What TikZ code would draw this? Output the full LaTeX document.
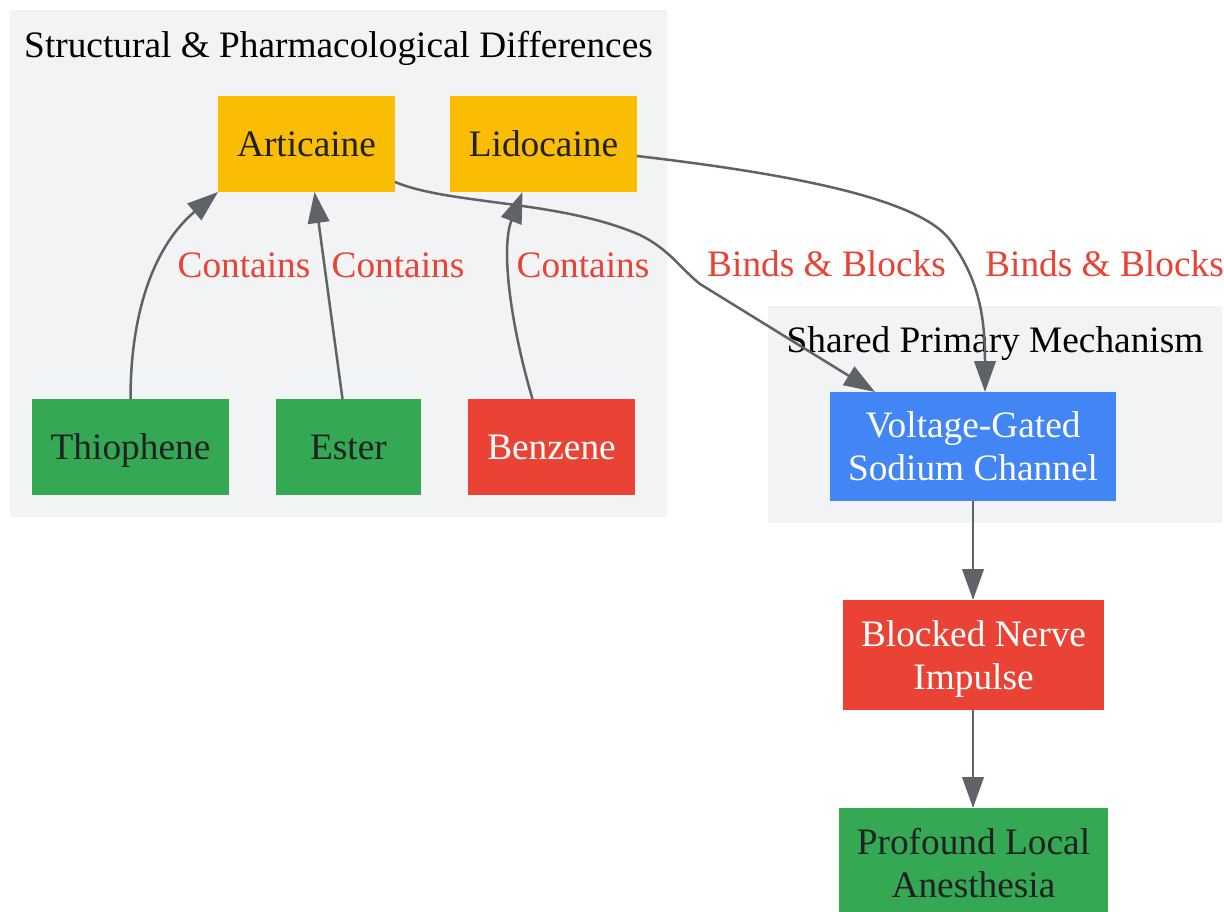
\documentclass[tikz,border=0pt]{standalone}
\usepackage{fontspec}
\setmainfont{Liberation Serif}
\usetikzlibrary{arrows.meta,calc}
\definecolor{cbg}{HTML}{F1F3F4}
\definecolor{gyel}{HTML}{FBBC04}
\definecolor{ggrn}{HTML}{34A853}
\definecolor{gred}{HTML}{EA4335}
\definecolor{gblu}{HTML}{4285F4}
\definecolor{gedge}{HTML}{5F6368}
\definecolor{gtxt}{HTML}{202124}
\begin{document}
\begin{tikzpicture}[x=1pt,y=-1pt,
  font=\fontsize{37.33}{43}\selectfont,
  box/.style={inner sep=0pt, outer sep=0pt, align=center},
  onebox/.style={box, text depth=0pt},
  yelbox/.style={onebox, fill=gyel, text=gtxt, minimum height=96pt},
  grnbox/.style={onebox, fill=ggrn, text=gtxt, minimum height=96pt},
  redbox/.style={onebox, fill=gred, text=white, minimum height=96pt},
  edge/.style={draw=gedge, line width=2.5pt, -{Triangle[length=31pt,width=21.5pt]}},
  lab/.style={text=gred, anchor=base, inner sep=0pt},
  ttl/.style={text=black, anchor=base, inner sep=0pt},
  cluster/.style={fill=cbg}]
\useasboundingbox (0,0) rectangle (1224,911);
\fill[white] (0,0) rectangle (1224,911);
% clusters
\fill[cluster] (10,10) rectangle (667,517);
\fill[cluster] (768,306) rectangle (1222,523);
\node[ttl] (t1) at (338.5,57) {Structural \& Pharmacological Differences};
\node[ttl] (t2) at (995,352) {Shared Primary Mechanism};
% nodes
\node[yelbox, minimum width=177pt] (art) at (306.5,144) {Articaine};
\node[yelbox, minimum width=187pt] (lido) at (543.5,144) {Lidocaine};
\node[grnbox, minimum width=197pt] (thio) at (130.5,447) {Thiophene};
\node[grnbox, minimum width=145pt] (ester) at (348.5,447) {Ester};
\node[redbox, minimum width=167pt] (benz) at (551.5,447) {Benzene};
\node[box, fill=gblu, text=white, minimum width=286pt, minimum height=109pt] (vgsc) at (973,446.5) {Voltage-Gated\\\smash{Sodium Channel}};
\node[box, fill=gred, text=white, minimum width=261pt, minimum height=110pt] (blocked) at (973.5,655) {Blocked Nerve\\\smash{Impulse}};
\node[box, fill=ggrn, text=gtxt, minimum width=269pt, minimum height=110pt] (prof) at (973.5,863) {Profound Local\\\smash{Anesthesia}};
% edges
\draw[edge] (thio.north) .. controls (130.5,310) and (155,245) .. (art.south west);
\draw[edge] ($(ester.north)+(-6,0)$) -- ($(art.south)+(8,0)$);
\draw[edge] ($(benz.north)+(-19,0)$) .. controls (512,330) and (500,250) .. ($(lido.south)+(-21,0)$);
\draw[edge] ($(art.east)+(0,38)$) .. controls (450,205) and (560,200) .. (640,235) .. controls (670,250) and (680,268) .. (700,284) -- ($(vgsc.north)+(-98,0)$);
\draw[edge] ($(lido.east)+(0,12)$) .. controls (800,175) and (920,200) .. (950,240) .. controls (980,280) and (985,320) .. ($(vgsc.north)+(12,0)$);
\draw[edge] (vgsc.south) -- (vgsc.south |- blocked.north);
\draw[edge] (vgsc.south |- blocked.south) -- (vgsc.south |- prof.north);
% edge labels
\node[lab] (l1) at (244,277) {Contains};
\node[lab] (l2) at (398,277) {Contains};
\node[lab] (l3) at (583,277) {Contains};
\node[lab] (l4) at (826.5,276) {Binds \& Blocks};
\node[lab] (l5) at (1104.5,276) {Binds \& Blocks};
\end{tikzpicture}
\end{document}
